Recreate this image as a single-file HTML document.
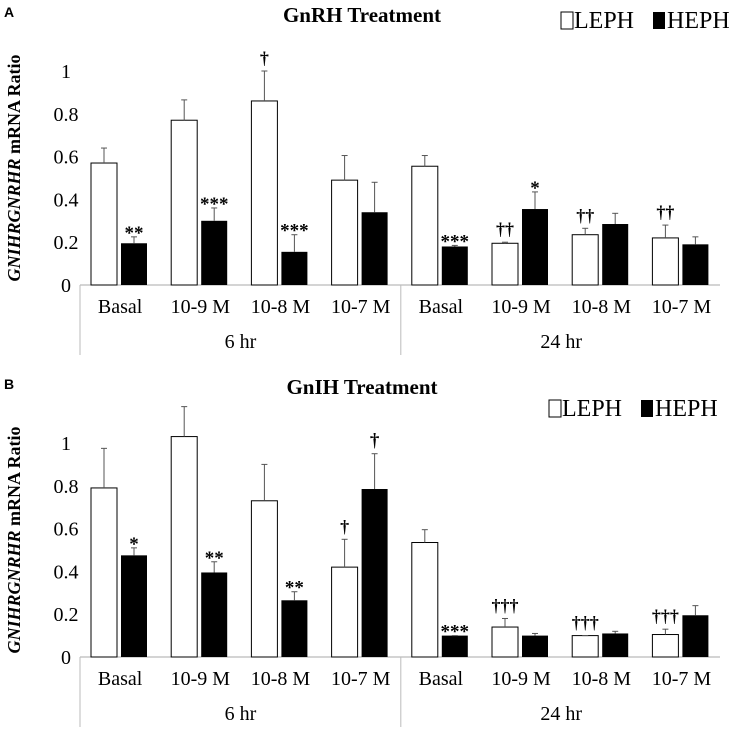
<!DOCTYPE html>
<html><head><meta charset="utf-8"><style>
body{margin:0;background:#fff}
svg{display:block;font-family:"Liberation Serif",serif}
</style></head><body>
<svg id="c" width="730" height="731" xmlns="http://www.w3.org/2000/svg"></svg>
<script>
const categories=["Basal","10-9 M","10-8 M","10-7 M","Basal","10-9 M","10-8 M","10-7 M"];
const groups=["6 hr","24 hr"];
const yTicks=[0,0.2,0.4,0.6,0.8,1];
const yTickLabels=["0","0.2","0.4","0.6","0.8","1"];
const aLeph=[0.57,0.77,0.86,0.49,0.555,0.195,0.235,0.22];
const aLephErr=[0.64,0.865,1.0,0.605,0.605,0.2,0.265,0.28];
const aHeph=[0.195,0.30,0.155,0.34,0.18,0.355,0.285,0.19];
const aHephErr=[0.225,0.36,0.235,0.48,0.185,0.435,0.335,0.225];
const aLephSig=["","","†","","","††","††","††"];
const aHephSig=["**","***","***","","***","*","",""];
const bLeph=[0.79,1.03,0.73,0.42,0.535,0.14,0.10,0.105];
const bLephErr=[0.975,1.17,0.90,0.55,0.595,0.18,0.10,0.13];
const bHeph=[0.475,0.395,0.265,0.785,0.10,0.10,0.11,0.195];
const bHephErr=[0.51,0.445,0.305,0.95,0.10,0.11,0.12,0.24];
const bLephSig=["","","","†","","†††","†††","†††"];
const bHephSig=["*","**","**","†","***","","",""];

const svg=document.getElementById('c');
const NS="http://www.w3.org/2000/svg";
function mk(tag,attrs,parent,text){const e=document.createElementNS(NS,tag);for(const k in attrs)e.setAttribute(k,attrs[k]);if(text!==undefined)e.textContent=text;(parent||svg).appendChild(e);return e;}

function panel(id,letter,title,y0,leph,lephE,heph,hephE,lSig,hSig){
  const g=mk('g',{});
  
  
  const base=y0+285, unit=214, left=80, gw=80.2;
  const y=v=>base-v*unit;
  const x=i=>left+i*gw;
  let t=mk('text',{x:4,y:y0+17,'font-family':'Liberation Sans,sans-serif','font-weight':'bold','font-size':14},g,letter);
  
  t=mk('text',{x:362,y:y0+22,'text-anchor':'middle','font-weight':'bold','font-size':21},g,title);
  
  const lg=mk('g',{},g);
  
  const ly=y0+(id==='a'?28:44), lx=id==='a'?561:549;
  mk('rect',{x:lx,y:ly-16,width:12,height:17,fill:'#fff',stroke:'#000','stroke-width':1},lg);
  mk('text',{x:lx+13,y:ly,'font-size':24},lg,'LEPH');
  mk('rect',{x:lx+92,y:ly-16,width:12,height:17,fill:'#000'},lg);
  mk('text',{x:lx+106,y:ly,'font-size':24},lg,'HEPH');
  t=mk('text',{transform:`translate(20,${y0+168}) rotate(-90)`,'text-anchor':'middle','font-weight':'bold','font-size':18},g);
  
  mk('tspan',{'font-style':'italic'},t,'GNIHRGNRHR');
  mk('tspan',{},t,' mRNA Ratio');
  yTicks.forEach((v,i)=>{const e=mk('text',{x:66,y:y(v)+7,'text-anchor':'middle','font-size':20},g,yTickLabels[i]);
    });
  mk('line',{x1:left,y1:base,x2:720,y2:base,stroke:'#aaa','stroke-width':1},g);
  mk('line',{x1:left,y1:base,x2:left,y2:base+70,stroke:'#bbb','stroke-width':1},g);
  mk('line',{x1:x(4),y1:base,x2:x(4),y2:base+70,stroke:'#bbb','stroke-width':1},g);
  categories.forEach((c,i)=>{
    const cx=x(i)+gw/2;
    const e=mk('text',{x:cx,y:base+28,'text-anchor':'middle','font-size':20},g,c);
    
    const wx=x(i)+11, bx=x(i)+41, bw=26;
    const r1=mk('rect',{x:wx,y:y(leph[i]),width:bw,height:leph[i]*unit,fill:'#fff',stroke:'#000','stroke-width':1},g);
    
    mk('line',{x1:wx+bw/2,y1:y(leph[i]),x2:wx+bw/2,y2:y(lephE[i]),stroke:'#555'},g);
    mk('line',{x1:wx+bw/2-3,y1:y(lephE[i]),x2:wx+bw/2+3,y2:y(lephE[i]),stroke:'#555'},g);
    const r2=mk('rect',{x:bx,y:y(heph[i]),width:bw,height:heph[i]*unit,fill:'#000'},g);
    
    mk('line',{x1:bx+bw/2,y1:y(heph[i]),x2:bx+bw/2,y2:y(hephE[i]),stroke:'#555'},g);
    mk('line',{x1:bx+bw/2-3,y1:y(hephE[i]),x2:bx+bw/2+3,y2:y(hephE[i]),stroke:'#555'},g);
    if(lSig[i]){const s=mk('text',{x:wx+bw/2,y:y(lephE[i])-7,'text-anchor':'middle','font-size':18,'font-weight':'bold'},g,lSig[i]);}
    if(hSig[i]){const s=mk('text',{x:bx+bw/2,y:y(hephE[i])+(hSig[i][0]==='*'?2:-7),'text-anchor':'middle','font-size':19,'font-weight':'bold'},g,hSig[i]);}
  });
  groups.forEach((gname,j)=>{
    const e=mk('text',{x:x(j*4)+gw*2,y:base+63,'text-anchor':'middle','font-size':20},g,gname);
    
  });
}
panel('a','A','GnRH Treatment',0,aLeph,aLephErr,aHeph,aHephErr,aLephSig,aHephSig);
panel('b','B','GnIH Treatment',372,bLeph,bLephErr,bHeph,bHephErr,bLephSig,bHephSig);
</script>
</body></html>
